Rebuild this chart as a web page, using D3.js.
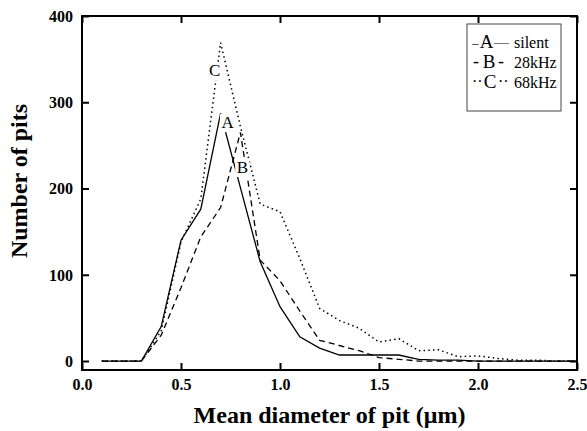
<!DOCTYPE html>
<html>
<head>
<meta charset="utf-8">
<script src="https://cdn.jsdelivr.net/npm/d3@7"></script>
<style>
  html, body { margin: 0; padding: 0; background: #fff; }
  svg { display: block; }
  text { font-family: "Liberation Serif", "Times New Roman", serif; fill: #000; }
</style>
</head>
<body>
<svg id="chart" width="587" height="431"></svg>
<script>
// ---- data ----
const diameters = [0.1, 0.2, 0.3, 0.4, 0.5, 0.6, 0.7, 0.8, 0.9, 1.0, 1.1, 1.2, 1.3, 1.4, 1.5, 1.6, 1.7, 1.8, 1.9, 2.0, 2.1, 2.2, 2.3, 2.4, 2.5];
const silentA = [0, 0, 0, 40, 140, 176, 287, 201, 115, 63, 28, 15, 7, 7, 7, 7, 2, 1, 1, 0, 0, 0, 0, 0, 0];
const khz28B  = [0, 0, 0, 30, 85, 144, 178, 265, 117, 93, 58, 24, 18, 12, 4, 2, 0, 0, 0, 0, 0, 0, 0, 0, 0];
const khz68C  = [0, 0, 0, 35, 138, 188, 369, 272, 182, 173, 119, 61, 47, 38, 22, 26, 12, 13, 5, 6, 3, 1, 1, 0, 0];
const xTicks = [0.0, 0.5, 1.0, 1.5, 2.0, 2.5];
const yTicks = [0, 100, 200, 300, 400];
const seriesNames = ["A", "B", "C"];
const seriesLabels = ["silent", "28kHz", "68kHz"];
const legendLeft = ["\u2013", "-", "\u00B7\u00B7"];
const legendRight = ["\u2014", "-", "\u00B7\u00B7"];
// annotation anchor points (data coords) for the curve letters
const annotX = [0.735, 0.81, 0.67];
const annotY = [270, 218, 330];

// ---- layout ----
const svg = d3.select("#chart");
const L = 82, R = 577, T = 16, B = 370;
const x = d3.scaleLinear().domain([0, 2.5]).range([L, R]);
const y = d3.scaleLinear().domain([-10.4, 400]).range([B, T]);

const series = [
  { name: "A", values: silentA, dash: null, width: 1.3 },
  { name: "B", values: khz28B, dash: "6,4", width: 1.3 },
  { name: "C", values: khz68C, dash: "1.5,3.2", width: 1.5 }
];

const line = d3.line().x(d => x(d[0])).y(d => y(d[1]));

svg.append("g").selectAll("path").data(series).join("path")
  .attr("d", s => line(diameters.map((dv, i) => [dv, s.values[i]])))
  .attr("fill", "none")
  .attr("stroke", "#000")
  .attr("stroke-width", s => s.width)
  .attr("stroke-dasharray", s => s.dash);

// curve letters with white background
const ann = svg.append("g");
seriesNames.forEach((nm, i) => {
  const g = ann.append("g");
  const t = g.append("text")
    .attr("x", x(annotX[i])).attr("y", y(annotY[i]))
    .attr("text-anchor", "middle")
    .attr("font-size", 17)
    .text(nm);
  const bb = t.node().getBBox();
  g.insert("rect", "text")
    .attr("x", bb.x - 1.5).attr("y", bb.y + 1)
    .attr("width", bb.width + 3).attr("height", bb.height - 1)
    .attr("fill", "#fff");
});

// ---- axes ----
const fmt = d3.format(".1f");
const axB = svg.append("g").attr("transform", `translate(0,${B})`)
  .call(d3.axisBottom(x).tickValues(xTicks).tickFormat(fmt).tickSizeInner(-7).tickSizeOuter(0));
const axT = svg.append("g").attr("transform", `translate(0,${T})`)
  .call(d3.axisTop(x).tickValues(xTicks).tickFormat("").tickSizeInner(-7).tickSizeOuter(0));
const axL = svg.append("g").attr("transform", `translate(${L},0)`)
  .call(d3.axisLeft(y).tickValues(yTicks).tickFormat(d3.format("d")).tickSizeInner(-7).tickSizeOuter(0));
const axR = svg.append("g").attr("transform", `translate(${R},0)`)
  .call(d3.axisRight(y).tickValues(yTicks).tickFormat("").tickSizeInner(-7).tickSizeOuter(0));

[axB, axT, axL, axR].forEach(a => {
  a.attr("font-family", '"Liberation Serif", "Times New Roman", serif');
  a.select(".domain").remove();
  a.selectAll(".tick line").attr("stroke", "#000").attr("stroke-width", 2);
  a.selectAll("text")
    .style("font-family", '"Liberation Serif", "Times New Roman", serif')
    .attr("font-weight", "bold").attr("font-size", 16).attr("fill", "#000");
});
axB.selectAll(".tick text").attr("y", 20).attr("dy", 0);
axL.selectAll(".tick text").attr("x", -9).attr("dy", "0.34em");

// frame
svg.append("rect")
  .attr("x", L).attr("y", T).attr("width", R - L).attr("height", B - T)
  .attr("fill", "none").attr("stroke", "#000").attr("stroke-width", 2);

// axis titles
svg.append("text")
  .attr("x", (L + R) / 2).attr("y", 423)
  .attr("text-anchor", "middle").attr("font-weight", "bold").attr("font-size", 24)
  .text("Mean diameter of pit (\u03BCm)");
svg.append("text")
  .attr("transform", "translate(27,181) rotate(-90)")
  .attr("text-anchor", "middle").attr("font-weight", "bold").attr("font-size", 24)
  .text("Number of pits");

// ---- legend ----
const lg = svg.append("g");
lg.append("rect").attr("x", 467).attr("y", 24).attr("width", 94).attr("height", 87)
  .attr("fill", "#fff").attr("stroke", "#444").attr("stroke-width", 1);
const rowY = [48, 68, 88];
const leftX = [472, 473, 472];
const leftSize = [13, 18, 16];
const letterX = [486.5, 489, 490];
const rightX = [494, 498, 498];
const rightSize = [15, 18, 16];
seriesNames.forEach((nm, i) => {
  lg.append("text").attr("x", leftX[i]).attr("y", rowY[i] - 1).attr("font-size", leftSize[i]).text(legendLeft[i]);
  lg.append("text").attr("x", letterX[i]).attr("y", rowY[i]).attr("font-size", 19)
    .attr("text-anchor", "middle").text(nm);
  lg.append("text").attr("x", rightX[i]).attr("y", rowY[i] - 1).attr("font-size", rightSize[i]).text(legendRight[i]);
  lg.append("text").attr("x", 514).attr("y", rowY[i]).attr("font-size", 16).text(seriesLabels[i]);
});
</script>
</body>
</html>
